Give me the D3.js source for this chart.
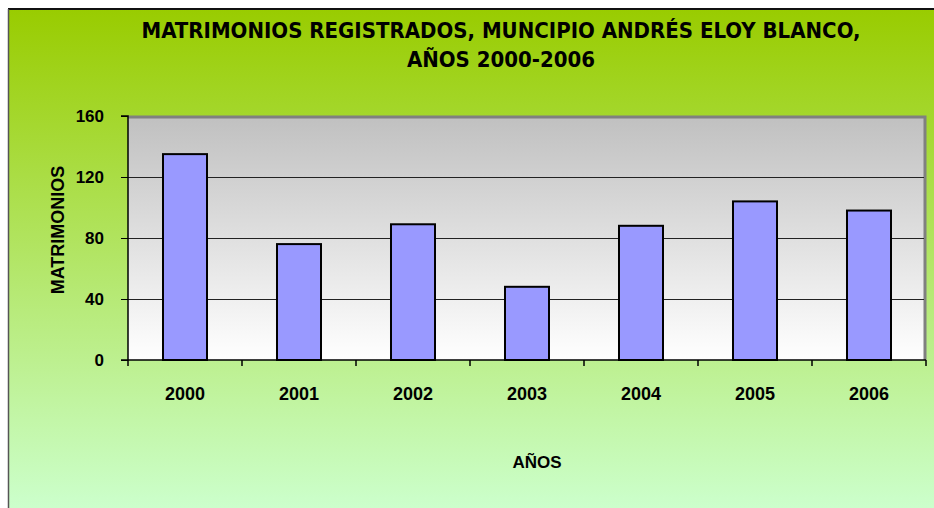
<!DOCTYPE html>
<html>
<head>
<meta charset="utf-8">
<script src="https://d3js.org/d3.v7.min.js"></script>
<style>
  body { margin: 0; background: #fff; }
  svg { display: block; }
  .tick text { font-family: "Liberation Sans", Arial, sans-serif; font-weight: bold; font-size: 17px; fill: #000; }
  .xax .tick text { font-size: 18px; }
</style>
</head>
<body>
<svg id="chart" width="934" height="508"></svg>
<script>
// data
const years = ["2000", "2001", "2002", "2003", "2004", "2005", "2006"];
const marriages = [135, 76, 89, 48, 88, 104, 98];
const yTicks = [0, 40, 80, 120, 160];
const titleLines = ["MATRIMONIOS REGISTRADOS, MUNCIPIO ANDRÉS ELOY BLANCO,", "AÑOS 2000-2006"];

const svg = d3.select("#chart");
const defs = svg.append("defs");

// outer background gradient (yellow-green to pale green)
let bg = defs.append("linearGradient").attr("id", "bg").attr("x1", 0).attr("y1", 0).attr("x2", 0).attr("y2", 1);
bg.append("stop").attr("offset", "0%").attr("stop-color", "#99cc00");
bg.append("stop").attr("offset", "100%").attr("stop-color", "#ccffcc");

let pg = defs.append("linearGradient").attr("id", "pg").attr("x1", 0).attr("y1", 0).attr("x2", 0).attr("y2", 1);
pg.append("stop").attr("offset", "0%").attr("stop-color", "#c0c0c0");
pg.append("stop").attr("offset", "100%").attr("stop-color", "#ffffff");

svg.append("rect").attr("x", 8).attr("y", 9).attr("width", 926).attr("height", 499).attr("fill", "url(#bg)");
svg.append("line").attr("x1", 8).attr("x2", 934).attr("y1", 9).attr("y2", 9).attr("stroke", "#111").attr("stroke-width", 2);
svg.append("line").attr("x1", 8.5).attr("x2", 8.5).attr("y1", 9).attr("y2", 508).attr("stroke", "#555").attr("stroke-width", 1.5);

const pLeft = 128, pRight = 926, pTop = 116, pBottom = 360;

const x = d3.scaleBand().domain(years).range([pLeft, pRight]).paddingInner(0.614).paddingOuter(0.307);
const xb = d3.scaleBand().domain(years).range([pLeft, pRight]);
const y = d3.scaleLinear().domain([0, 160]).range([pBottom, pTop]);

// plot area
svg.append("rect").attr("x", pLeft).attr("y", pTop).attr("width", pRight - pLeft).attr("height", pBottom - pTop)
  .attr("fill", "url(#pg)");
svg.append("path")
  .attr("d", `M${pLeft},${pTop + 1}H${pRight - 1}V${pBottom}`)
  .attr("fill", "none").attr("stroke", "#808080").attr("stroke-width", 3);

// gridlines
svg.append("g").selectAll("line").data(yTicks.filter(d => d > 0 && d < 160)).join("line")
  .attr("x1", pLeft).attr("x2", pRight - 2)
  .attr("y1", d => y(d) + 0.5).attr("y2", d => y(d) + 0.5)
  .attr("stroke", "#222").attr("stroke-width", 1);

// bars
svg.append("g").selectAll("rect").data(marriages).join("rect")
  .attr("x", (d, i) => x(years[i]))
  .attr("y", d => y(d))
  .attr("width", x.bandwidth())
  .attr("height", d => pBottom - y(d))
  .attr("fill", "#9999ff")
  .attr("stroke", "#000").attr("stroke-width", 2);

// axes
const yAxis = d3.axisLeft(y).tickValues(yTicks).tickSize(7).tickPadding(17);
svg.append("g").attr("transform", `translate(${pLeft},0)`).call(yAxis)
  .call(g => g.select(".domain").attr("stroke", "#000").attr("stroke-width", 1.5).attr("d", `M-7,${pTop}H0V${pBottom + 6}`));

const xAxis = d3.axisBottom(xb).tickSize(0).tickPadding(27);
let xg = svg.append("g").attr("class", "xax").attr("transform", `translate(0,${pBottom})`).call(xAxis);
xg.select(".domain").attr("stroke", "#000").attr("stroke-width", 1.5).attr("d", `M${pLeft - 7},0H${pRight}`);
xg.selectAll(".bnd").data(years).join("line")
  .attr("x1", d => xb(d) + xb.step()).attr("x2", d => xb(d) + xb.step())
  .attr("y1", 0).attr("y2", 6).attr("stroke", "#000").attr("stroke-width", 1.5);

// titles
svg.append("g").selectAll("text").data(titleLines).join("text")
  .attr("x", 501).attr("y", (d, i) => 38 + i * 29)
  .attr("text-anchor", "middle")
  .style("font-family", '"Liberation Sans Narrow", "Arial Narrow", "DejaVu Sans Condensed", sans-serif')
  .style("font-weight", "bold").style("font-size", "22px")
  .text(d => d);

svg.append("text").attr("x", 537).attr("y", 468).attr("text-anchor", "middle")
  .style("font-family", '"Liberation Sans", Arial, sans-serif').style("font-weight", "bold").style("font-size", "17px")
  .text("AÑOS");

svg.append("text").attr("transform", "translate(64,230) rotate(-90)").attr("text-anchor", "middle")
  .style("font-family", '"Liberation Sans", Arial, sans-serif').style("font-weight", "bold").style("font-size", "18px")
  .text("MATRIMONIOS");
</script>
</body>
</html>
